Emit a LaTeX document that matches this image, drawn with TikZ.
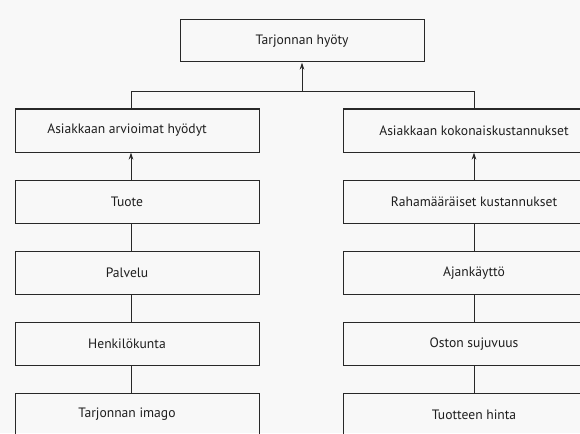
\documentclass[tikz,border=0pt]{standalone}
\usepackage{fontspec}
\setmainfont{PT Sans}
\usetikzlibrary{arrows.meta,calc}
\definecolor{bg}{RGB}{248,248,248}
\definecolor{lc}{RGB}{40,40,40}
\definecolor{tc}{RGB}{30,30,30}
\begin{document}
\begin{tikzpicture}[x=1pt,y=-1pt,
 txt/.style={font=\fontsize{13.6}{16}\selectfont, text=tc},
 box/.style={draw=lc, line width=1pt, minimum height=43pt, inner sep=0pt, txt},
 lbox/.style={box, minimum width=244pt},
 lab/.style={txt, inner sep=0pt, xshift=-10pt},
 rbox/.style={box, minimum width=262pt},
 conn/.style={draw=lc, line width=1pt},
 arr/.style={conn, -{Stealth[length=7pt,width=4.5pt]}}]
\useasboundingbox (0,0) rectangle (580,433);
\fill[bg] (0,0) rectangle (580,433);
\clip (0,0) rectangle (580,433);
\node[box, minimum width=244pt, minimum height=42pt] (top) at (302,41) {Tarjonnan hyöty};
\coordinate (j) at (302,92);
\coordinate (xL) at (131,0);
% left column
\node[lbox, label={[lab]center:Asiakkaan arvioimat hyödyt}] (l1) at (137,130.5) {};
\node[lbox, label={[lab]center:Tuote}] (l2) at (137,201.5) {};
\node[lbox, label={[lab]center:Palvelu}] (l3) at (137,273) {};
\node[lbox, label={[lab]center:Henkilökunta}] (l4) at (137,344) {};
\node[lbox, label={[lab]center:Tarjonnan imago}] (l5) at (137,414.5) {};
% right column
\node[rbox] (r1) at (474,130.5) {Asiakkaan kokonaiskustannukset};
\node[rbox] (r2) at (474,201.5) {Rahamääräiset kustannukset};
\node[rbox] (r3) at (474,273) {Ajankäyttö};
\node[rbox] (r4) at (474,344) {Oston sujuvuus};
\node[rbox] (r5) at (474,414.5) {Tuotteen hinta};
% connectors
\draw[arr] (j) -- (top.south);
\draw[conn] (l1.north -| xL) -- (xL |- j) -- (j -| r1.north) -- (r1.north);
\draw[arr] (l2.north -| xL) -- (l1.south -| xL);
\draw[conn] (l3.north -| xL) -- (l2.south -| xL);
\draw[conn] (l4.north -| xL) -- (l3.south -| xL);
\draw[conn] (l5.north -| xL) -- (l4.south -| xL);
\draw[arr] (r2.north) -- (r1.south);
\draw[conn] (r3.north) -- (r2.south);
\draw[conn] (r4.north) -- (r3.south);
\draw[conn] (r5.north) -- (r4.south);
\end{tikzpicture}
\end{document}
